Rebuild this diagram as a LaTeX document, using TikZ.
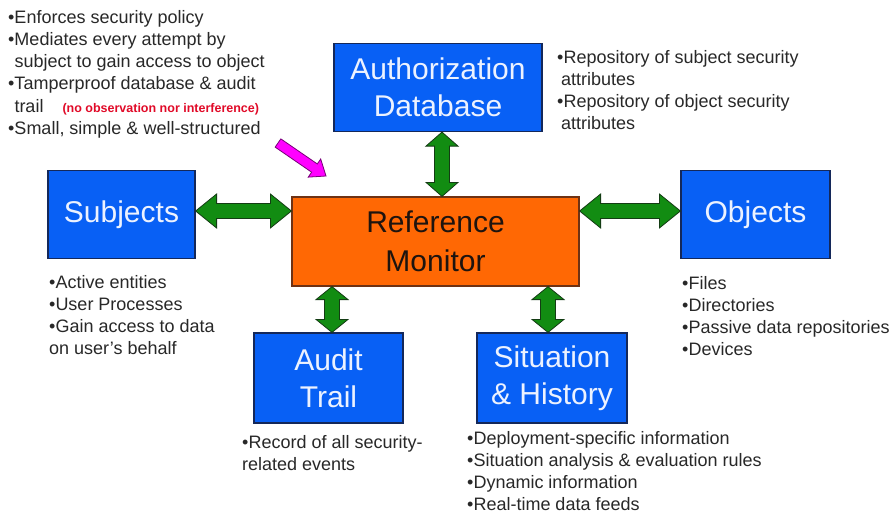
\documentclass[tikz,border=0pt]{standalone}
\usepackage{fontspec}
\setmainfont{Liberation Sans}
\usetikzlibrary{calc}
\definecolor{boxblue}{RGB}{8,96,245}
\definecolor{boxedge}{RGB}{20,40,90}
\definecolor{boxtext}{RGB}{236,242,255}
\definecolor{rmorange}{RGB}{255,104,4}
\definecolor{rmedge}{RGB}{110,50,20}
\definecolor{rmtext}{RGB}{30,20,15}
\definecolor{arrowgreen}{RGB}{18,140,18}
\definecolor{arrowedge}{RGB}{20,60,20}
\definecolor{pointmag}{RGB}{255,0,255}
\definecolor{pointedge}{RGB}{120,0,120}
\definecolor{notetext}{RGB}{40,40,40}
\definecolor{notered}{RGB}{225,10,40}
\tikzset{
  bluebox/.style={draw=boxedge, line width=1.2pt, fill=boxblue, text=boxtext,
    inner sep=0pt, align=center, font=\fontsize{30}{37}\selectfont},
  rmbox/.style={draw=rmedge, line width=1.2pt, fill=rmorange, text=rmtext,
    inner sep=0pt, align=center, font=\fontsize{30}{39}\selectfont},
  note/.style={anchor=north west, inner sep=0pt, align=left, text=notetext,
    font=\fontsize{18}{22.2}\selectfont},
  dblarrow/.style n args={3}{draw=arrowedge, line width=0.8pt, fill=arrowgreen,
    line join=miter, to path={
      (\tikztostart)
      -- ($($(\tikztostart)!#1!(\tikztotarget)$)!#2!90:(\tikztotarget)$)
      -- ($($(\tikztostart)!#1!(\tikztotarget)$)!#3!90:(\tikztotarget)$)
      -- ($($(\tikztotarget)!#1!(\tikztostart)$)!#3!-90:(\tikztostart)$)
      -- ($($(\tikztotarget)!#1!(\tikztostart)$)!#2!-90:(\tikztostart)$)
      -- (\tikztotarget)
      -- ($($(\tikztotarget)!#1!(\tikztostart)$)!#2!90:(\tikztostart)$)
      -- ($($(\tikztotarget)!#1!(\tikztostart)$)!#3!90:(\tikztostart)$)
      -- ($($(\tikztostart)!#1!(\tikztotarget)$)!#3!-90:(\tikztotarget)$)
      -- ($($(\tikztostart)!#1!(\tikztotarget)$)!#2!-90:(\tikztotarget)$)
      -- cycle}},
  onearrow/.style n args={3}{draw=pointedge, line width=0.8pt, fill=pointmag,
    line join=miter, to path={
      ($(\tikztostart)!#3!90:(\tikztotarget)$)
      -- ($($(\tikztotarget)!#1!(\tikztostart)$)!#3!-90:(\tikztostart)$)
      -- ($($(\tikztotarget)!#1!(\tikztostart)$)!#2!-90:(\tikztostart)$)
      -- (\tikztotarget)
      -- ($($(\tikztotarget)!#1!(\tikztostart)$)!#2!90:(\tikztostart)$)
      -- ($($(\tikztotarget)!#1!(\tikztostart)$)!#3!90:(\tikztostart)$)
      -- ($(\tikztostart)!#3!-90:(\tikztotarget)$)
      -- cycle}},
}
\begin{document}
\begin{tikzpicture}[x=1pt,y=-1pt]
\useasboundingbox (0,0) rectangle (893,514);
\fill[white] (0,0) rectangle (893,514);

% boxes
\node[bluebox, minimum width=208pt, minimum height=88pt] (auth) at (438,87.5) {Authorization\\Database};
\node[bluebox, minimum width=147pt, minimum height=88pt] (sub) at (121.5,214.5) {Subjects};
\node[rmbox, minimum width=287pt, minimum height=89pt] (rm) at (435.5,241.5) {Reference\\Monitor};
\node[bluebox, minimum width=149pt, minimum height=88pt] (obj) at (755.5,214.5) {Objects};
\node[bluebox, minimum width=149pt, minimum height=90pt] (audit) at (328.5,378) {Audit\\Trail};
\node[bluebox, minimum width=150pt, minimum height=90pt] (sit) at (552,378) {Situation\\\& History};

% connectors
\draw[dblarrow={21pt}{17pt}{7.5pt}] (sub.east |- 0,211) to (rm.west |- 0,211);
\draw[dblarrow={21pt}{17pt}{7.5pt}] (rm.east |- 0,211) to (obj.west |- 0,211);
\draw[dblarrow={14pt}{16pt}{7.5pt}] (auth.south -| 442,0) to (rm.north -| 442,0);
\draw[dblarrow={13pt}{16pt}{7.5pt}] (rm.south -| 332,0) to (audit.north -| 332,0);
\draw[dblarrow={13pt}{16pt}{7.5pt}] (rm.south -| 548,0) to (sit.north -| 548,0);

\coordinate (magtail) at (278,143);
\coordinate (magtip) at (326,176);
\draw[onearrow={14pt}{11pt}{5pt}] (magtail) to (magtip);

% notes
\node[note] (tl) at (8,10) {•Enforces security policy\\
•Mediates every attempt by\\
\phantom{•}subject to gain access to object\\
•Tamperproof database \& audit\\
\phantom{•}trail\hspace{19pt}{\color{notered}\bfseries\fontsize{12.5}{22.2}\selectfont (no observation nor interference)}\\
•Small, simple \& well-structured};

\node[note] (authn) at (557,50) {•Repository of subject security\\
\hspace{4pt}attributes\\
•Repository of object security\\
\hspace{4pt}attributes};

\node[note] (subn) at (49,275) {•Active entities\\
•User Processes\\
•Gain access to data\\
on user's behalf};

\node[note] (objn) at (682,276) {•Files\\
•Directories\\
•Passive data repositories\\
•Devices};

\node[note] (auditn) at (242,435) {•Record of all security-\\
related events};

\node[note] (sitn) at (467,431) {•Deployment-specific information\\
•Situation analysis \& evaluation rules\\
•Dynamic information\\
•Real-time data feeds};
\end{tikzpicture}
\end{document}
